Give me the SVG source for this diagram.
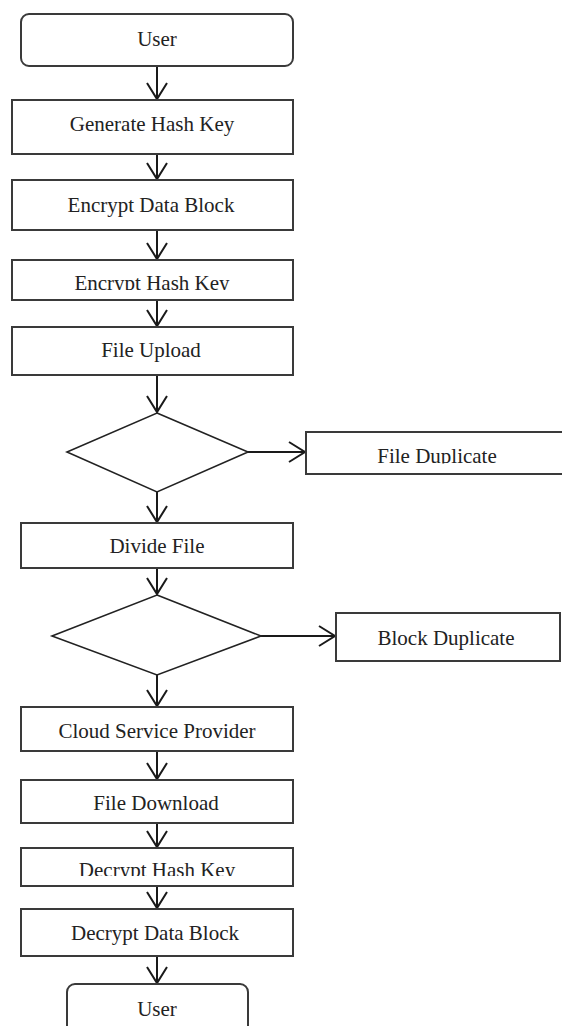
<svg xmlns="http://www.w3.org/2000/svg" width="562" height="1026" viewBox="0 0 562 1026">
<style>
.box{fill:#fff;stroke:#3a3a3a;stroke-width:2}
.dia{fill:#fff;stroke:#222;stroke-width:1.6}
.lbl{font-family:"Liberation Serif","Times New Roman",serif;font-size:21px;fill:#222;text-anchor:middle}
.con{fill:none;stroke:#1a1a1a;stroke-width:2;marker-end:url(#arr)}
</style>
<defs>
<marker id="arr" markerUnits="userSpaceOnUse" viewBox="-19 -12 21 24" markerWidth="21" markerHeight="24" refX="0" refY="0" orient="auto">
<path d="M-16,-10 L0,0 L-16,10" fill="none" stroke="#1a1a1a" stroke-width="2"/>
</marker>
<clipPath id="c1"><rect x="0" y="0" width="562" height="290"/></clipPath>
<clipPath id="c2"><rect x="0" y="0" width="562" height="463.5"/></clipPath>
<clipPath id="c3"><rect x="0" y="0" width="562" height="876"/></clipPath>
</defs>
<rect width="562" height="1026" fill="#fff"/>
<g id="connectors">
<path class="con" d="M157,66 V99"/>
<path class="con" d="M157,154 V179"/>
<path class="con" d="M157,230 V259"/>
<path class="con" d="M157,300 V326"/>
<path class="con" d="M157,375 V412"/>
<path class="con" d="M248,452 H305"/>
<path class="con" d="M157,492 V522"/>
<path class="con" d="M157,568 V594"/>
<path class="con" d="M261,636 H335"/>
<path class="con" d="M157,675 V706"/>
<path class="con" d="M157,751 V779"/>
<path class="con" d="M157,823 V847"/>
<path class="con" d="M157,886 V908"/>
<path class="con" d="M157,956 V983"/>
</g>
<g id="user1"><rect class="box" x="21" y="14" width="272" height="52" rx="8"/><text class="lbl" x="157" y="46">User</text></g>
<g id="genhash"><rect class="box" x="12" y="100" width="281" height="54"/><text class="lbl" x="152" y="131">Generate Hash Key</text></g>
<g id="encdata"><rect class="box" x="12" y="180" width="281" height="50"/><text class="lbl" x="151" y="212">Encrypt Data Block</text></g>
<g id="enchash"><rect class="box" x="12" y="260" width="281" height="40"/><text class="lbl" x="152" y="290" clip-path="url(#c1)">Encrypt Hash Key</text></g>
<g id="upload"><rect class="box" x="12" y="327" width="281" height="48"/><text class="lbl" x="151" y="357">File Upload</text></g>
<g id="dec1"><polygon class="dia" points="157,413 248,452 157,492 67,452"/></g>
<g id="filedup"><rect class="box" x="306" y="432" width="262" height="42"/><text class="lbl" x="437" y="463" clip-path="url(#c2)">File Duplicate</text></g>
<g id="divide"><rect class="box" x="21" y="523" width="272" height="45"/><text class="lbl" x="157" y="553">Divide File</text></g>
<g id="dec2"><polygon class="dia" points="157,595 261,636 157,675 52,636"/></g>
<g id="blockdup"><rect class="box" x="336" y="613" width="224" height="48"/><text class="lbl" x="446" y="645">Block Duplicate</text></g>
<g id="csp"><rect class="box" x="21" y="707" width="272" height="44"/><text class="lbl" x="157" y="738">Cloud Service Provider</text></g>
<g id="download"><rect class="box" x="21" y="780" width="272" height="43"/><text class="lbl" x="156" y="810">File Download</text></g>
<g id="dechash"><rect class="box" x="21" y="848" width="272" height="38"/><text class="lbl" x="157" y="877" clip-path="url(#c3)">Decrypt Hash Key</text></g>
<g id="decdata"><rect class="box" x="21" y="909" width="272" height="47"/><text class="lbl" x="155" y="940">Decrypt Data Block</text></g>
<g id="user2"><rect class="box" x="67" y="984" width="181" height="60" rx="8"/><text class="lbl" x="157" y="1016">User</text></g>
</svg>
